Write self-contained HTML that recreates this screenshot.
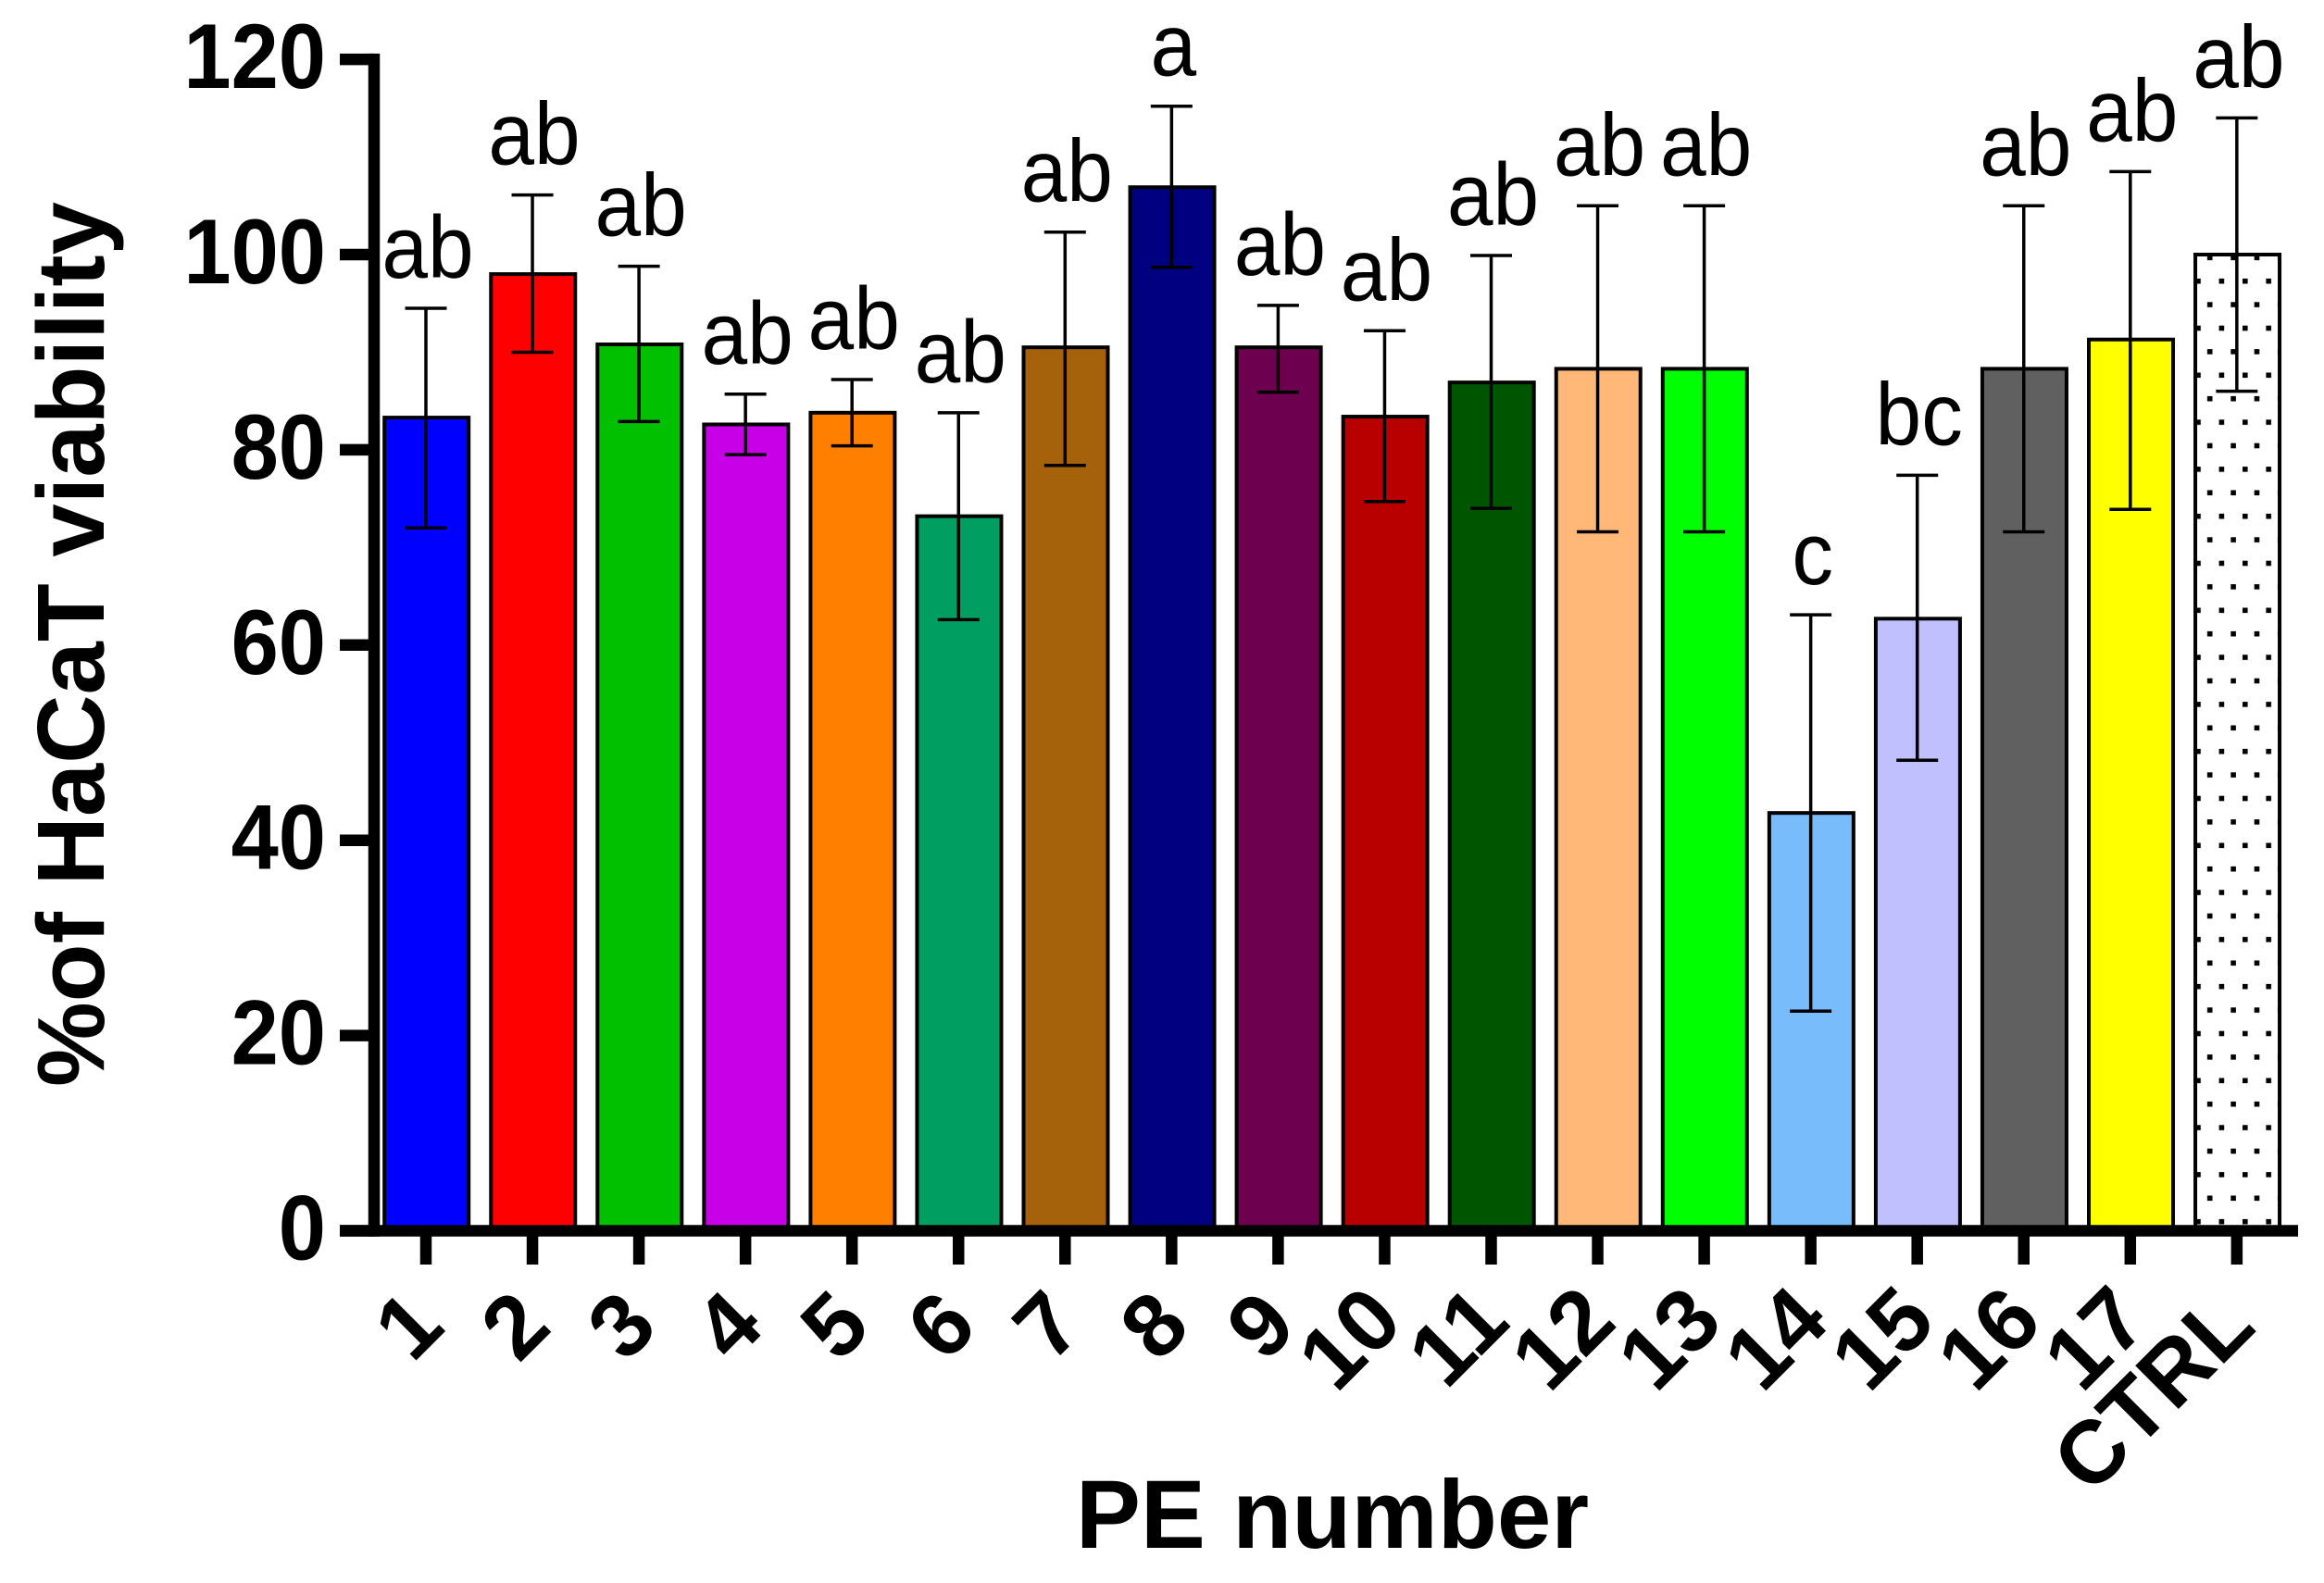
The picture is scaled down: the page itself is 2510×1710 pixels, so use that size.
<!DOCTYPE html>
<html lang="en">
<head>
<meta charset="utf-8">
<title>HaCaT viability by PE number</title>
<style>
html,body{margin:0;padding:0;background:#fff;width:2510px;height:1710px;overflow:hidden}
svg{display:block}
text{font-family:"Liberation Sans",Arial,sans-serif;fill:#000}
.bold{font-weight:700}
</style>
</head>
<body>
<svg id="chart" xmlns="http://www.w3.org/2000/svg" width="2510" height="1710" viewBox="0 0 2510 1710">
  <defs>
    <pattern id="dots" patternUnits="userSpaceOnUse" x="2371.2" y="300.9" width="25.4" height="50.8">
      <rect x="0" y="0" width="5.6" height="5.6" fill="#000"/>
      <rect x="12.7" y="25.4" width="5.6" height="5.6" fill="#000"/>
    </pattern>
  </defs>
  <rect x="0" y="0" width="2510" height="1710" fill="#fff"/>
  <g id="bars"></g>
  <g id="errors"></g>
  <g id="letters"></g>
  <g id="axes"></g>
  <text class="bold" font-size="103" text-anchor="middle" transform="translate(112,696) rotate(-90)">%of HaCaT viability</text>
  <text class="bold" font-size="105" x="1439" y="1672" text-anchor="middle">PE number</text>
</svg>
<script>
const categories = ['1','2','3','4','5','6','7','8','9','10','11','12','13','14','15','16','17','CTRL'];
const means = [83.3,98.0,90.8,82.6,83.8,73.2,90.5,106.9,90.5,83.4,86.9,88.3,88.3,42.8,62.7,88.3,91.3,100.0];
const upperErrors = [94.5,106.1,98.8,85.7,87.2,83.8,102.3,115.2,94.8,92.2,99.9,105.0,105.0,63.1,77.4,105.0,108.5,114.0];
const lowerErrors = [72.0,90.0,82.9,79.5,80.4,62.6,78.4,98.7,85.9,74.7,74.0,71.6,71.6,22.5,48.2,71.6,73.9,86.0];
const sigLetters = ['ab','ab','ab','ab','ab','ab','ab','a','ab','ab','ab','ab','ab','c','bc','ab','ab','ab'];
const yTicks = [0,20,40,60,80,100,120];
const barFills = ['#0000ff','#ff0000','#00c000','#c800e8','#ff8000','#009e60','#a5620a','#000080','#6e0050','#b80000','#005500','#ffb878','#00ff00','#78bcfc','#c0c0ff','#606060','#ffff00','url(#dots)'];

const NS = 'http://www.w3.org/2000/svg';
const Y0 = 1329.5, PX_PER_UNIT = 10.545, X0 = 460, X_STEP = 115.05;
const BAR_W = 91, CAP_W = 45, AXIS_W = 12.5;
const AXIS_LEFT = 404, AXIS_RIGHT = 2482, TICK_L_END = 367, TICK_B_END = 1366;

function yScale(v){ return Y0 - v * PX_PER_UNIT; }
function xScale(i){ return X0 + i * X_STEP; }
function make(parent, tag, attrs, txt){
  const el = document.createElementNS(NS, tag);
  for (const k in attrs) el.setAttribute(k, attrs[k]);
  if (txt !== undefined) el.textContent = txt;
  parent.appendChild(el);
  return el;
}
const gBars = document.getElementById('bars');
const gErr = document.getElementById('errors');
const gLet = document.getElementById('letters');
const gAxes = document.getElementById('axes');

categories.forEach(function(cat, i){
  const cx = xScale(i);
  const top = yScale(means[i]);
  const bar = make(gBars, 'rect', {x:cx-BAR_W/2+0.7, y:top, width:BAR_W, height:Y0-top, fill:barFills[i], stroke:'#000', 'stroke-width':4});
  
  

  const up = yScale(upperErrors[i]), lo = yScale(lowerErrors[i]);
  const stem = make(gErr, 'line', {x1:cx, x2:cx, y1:up, y2:lo, stroke:'#000', 'stroke-width':3.5});
  
  
  const capTop = make(gErr, 'line', {x1:cx-CAP_W/2, x2:cx+CAP_W/2, y1:up, y2:up, stroke:'#000', 'stroke-width':3.5});
  
  
  const capLow = make(gErr, 'line', {x1:cx-CAP_W/2, x2:cx+CAP_W/2, y1:lo, y2:lo, stroke:'#000', 'stroke-width':3.5});
  
  

  const letter = make(gLet, 'text', {'font-size':96, 'text-anchor':'middle', transform:'translate(' + (cx+2) + ',' + (up-33) + ') scale(0.93,1)'}, sigLetters[i]);
  
  

  const tick = make(gAxes, 'line', {x1:cx, x2:cx, y1:Y0, y2:TICK_B_END, stroke:'#000', 'stroke-width':AXIS_W});
  
  

  const ex = cx + 23, ey = cat.length === 2 ? 1431 : 1436;
  const lab = make(gAxes, 'text', {'class':'bold', 'font-size':96, 'text-anchor':'end', transform:'translate(' + ex + ',' + ey + ') rotate(-45)'}, cat);
  
  
});

yTicks.forEach(function(v){
  const y = yScale(v);
  const tick = make(gAxes, 'line', {x1:TICK_L_END, x2:AXIS_LEFT, y1:y, y2:y, stroke:'#000', 'stroke-width':AXIS_W});
  
  
  const lab = make(gAxes, 'text', {'class':'bold', 'font-size':99, 'text-anchor':'end', transform:'translate(352,' + (y+31) + ') scale(0.93,1)'}, String(v));
  
  
});

const yAxis = make(gAxes, 'line', {x1:AXIS_LEFT, x2:AXIS_LEFT, y1:yScale(120)-AXIS_W/2, y2:Y0+AXIS_W/2, stroke:'#000', 'stroke-width':AXIS_W});


const xAxis = make(gAxes, 'line', {x1:TICK_L_END, x2:AXIS_RIGHT, y1:Y0, y2:Y0, stroke:'#000', 'stroke-width':AXIS_W});


</script>
</body>
</html>
